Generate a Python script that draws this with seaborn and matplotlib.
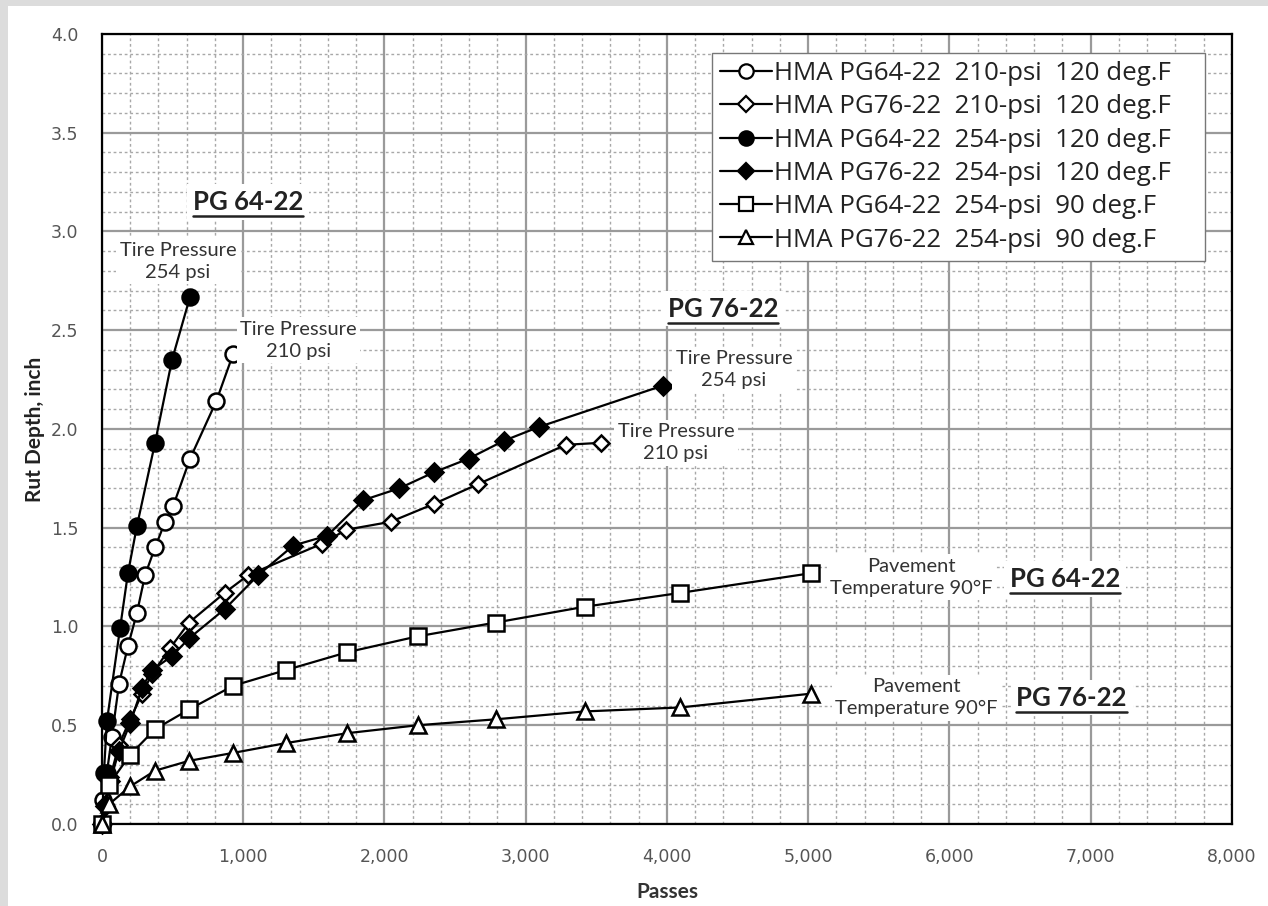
import matplotlib
matplotlib.use("Agg")
import matplotlib.pyplot as plt
import seaborn as sns
import pandas as pd
import numpy as np
from matplotlib.ticker import MultipleLocator, FuncFormatter
from matplotlib.lines import Line2D
from matplotlib.patches import Rectangle

# ---------------- data ----------------
labels = [
    "HMA PG64-22  210-psi  120 deg.F",
    "HMA PG76-22  210-psi  120 deg.F",
    "HMA PG64-22  254-psi  120 deg.F",
    "HMA PG76-22  254-psi  120 deg.F",
    "HMA PG64-22  254-psi  90 deg.F",
    "HMA PG76-22  254-psi  90 deg.F",
]

pg64_210_x = [0, 10, 35, 70, 121, 184, 248, 305, 376, 447, 504, 624, 809, 929]
pg64_210_y = [0.0, 0.12, 0.26, 0.44, 0.71, 0.90, 1.07, 1.26, 1.40, 1.53, 1.61, 1.85, 2.14, 2.38]

pg76_210_x = [0, 20, 60, 120, 200, 284, 355, 482, 617, 868, 1035, 1560, 1730, 2043, 2348, 2660, 3284, 3532]
pg76_210_y = [0.0, 0.10, 0.24, 0.40, 0.53, 0.66, 0.76, 0.89, 1.02, 1.17, 1.26, 1.42, 1.49, 1.53, 1.62, 1.72, 1.92, 1.93]

pg64_254_x = [0, 14, 35, 128, 184, 248, 376, 496, 624]
pg64_254_y = [0.0, 0.26, 0.52, 0.99, 1.27, 1.51, 1.93, 2.35, 2.67]

pg76_254_x = [0, 20, 60, 120, 200, 284, 355, 496, 617, 872, 1106, 1355, 1596, 1851, 2106, 2348, 2596, 2844, 3092, 3972]
pg76_254_y = [0.0, 0.09, 0.22, 0.37, 0.51, 0.69, 0.78, 0.85, 0.94, 1.09, 1.26, 1.41, 1.46, 1.64, 1.70, 1.78, 1.85, 1.94, 2.01, 2.22]

pg64_90_x = [0, 50, 199, 376, 617, 929, 1305, 1738, 2234, 2787, 3418, 4092, 5021]
pg64_90_y = [0.0, 0.20, 0.35, 0.48, 0.58, 0.70, 0.78, 0.87, 0.95, 1.02, 1.10, 1.17, 1.27]

pg76_90_x = [0, 50, 199, 376, 617, 929, 1305, 1738, 2234, 2787, 3418, 4092, 5021]
pg76_90_y = [0.0, 0.10, 0.19, 0.27, 0.32, 0.36, 0.41, 0.46, 0.50, 0.53, 0.57, 0.59, 0.66]

series_x = [pg64_210_x, pg76_210_x, pg64_254_x, pg76_254_x, pg64_90_x, pg76_90_x]
series_y = [pg64_210_y, pg76_210_y, pg64_254_y, pg76_254_y, pg64_90_y, pg76_90_y]
markers = ["o", "D", "o", "D", "s", "^"]
filled = [False, False, True, True, False, False]
msizes = [11.5, 8.5, 11.5, 9.5, 11, 11]

x_ticks = [0, 1000, 2000, 3000, 4000, 5000, 6000, 7000, 8000]
y_ticks = [0.0, 0.5, 1.0, 1.5, 2.0, 2.5, 3.0, 3.5, 4.0]

# ---------------- figure ----------------
sns.set_theme(style="white")
plt.rcParams["font.family"] = ["Lato", "DejaVu Sans"]

fig = plt.figure(figsize=(12.68, 9.06), dpi=100)
fig.patch.set_facecolor("white")
# light grey screenshot edges (top and left)
fig.patches.append(Rectangle((0, 1 - 6 / 906), 1, 6 / 906, transform=fig.transFigure,
                             facecolor="#dcdcdc", edgecolor="none", zorder=0))
fig.patches.append(Rectangle((0, 0), 8 / 1268, 1, transform=fig.transFigure,
                             facecolor="#dcdcdc", edgecolor="none", zorder=0))
ax = fig.add_axes([0.0804, 0.0905, 0.8912, 0.872])

handles = []
for xs, ys, mk, fl, ms, lab in zip(series_x, series_y, markers, filled, msizes, labels):
    df = pd.DataFrame({"Passes": xs, "Rut": ys})
    sns.lineplot(data=df, x="Passes", y="Rut", ax=ax, sort=False, estimator=None,
                 color="black", linewidth=1.6, marker=mk, markersize=ms,
                 markerfacecolor=("black" if fl else "white"), markeredgecolor="black",
                 markeredgewidth=1.8, zorder=5, clip_on=False)
    handles.append(Line2D([], [], color="black", linewidth=1.6, marker=mk,
                          markersize=ms * 0.9, markerfacecolor=("black" if fl else "white"),
                          markeredgecolor="black", markeredgewidth=1.6))

ax.set_xlim(0, 8000)
ax.set_ylim(0, 4.0)
ax.set_xticks(x_ticks)
ax.set_yticks(y_ticks)
ax.xaxis.set_minor_locator(MultipleLocator(200))
ax.yaxis.set_minor_locator(MultipleLocator(0.1))
ax.xaxis.set_major_formatter(FuncFormatter(lambda v, p: f"{int(v):,}"))
ax.yaxis.set_major_formatter(FuncFormatter(lambda v, p: f"{v:.1f}"))
ax.grid(which="major", color="#9a9a9a", linewidth=1.6, linestyle="-", zorder=0)
ax.grid(which="minor", color="#a8a8a8", linewidth=1.0, linestyle=(0, (2, 2)), zorder=0)
ax.set_axisbelow(True)
for s in ax.spines.values():
    s.set_color("black")
    s.set_linewidth(1.6)
ax.tick_params(axis="both", which="major", labelsize=12.5, labelcolor="#555555", length=0)
ax.tick_params(axis="x", pad=17)
ax.tick_params(axis="y", pad=17)
for t in ax.get_xticklabels() + ax.get_yticklabels():
    t.set_fontfamily(["DejaVu Sans"])

ax.set_xlabel("Passes", fontsize=15, fontweight="bold", color="#333333", labelpad=12)
ax.set_ylabel("Rut Depth, inch", fontsize=15, fontweight="bold", color="#222222", labelpad=4)

leg = ax.legend(handles, labels, loc="upper left",
                bbox_to_anchor=(0.5398, 0.976, 0.4363, 0), mode="expand",
                borderaxespad=0,
                prop={"family": ["Open Sans", "DejaVu Sans"], "size": 18.6},
                frameon=True, fancybox=False, edgecolor="#777777",
                framealpha=1, handlelength=2.0, handletextpad=0.1, labelspacing=0.32,
                borderpad=0.32)
leg.get_frame().set_linewidth(1.0)
leg.set_zorder(10)
for t in leg.get_texts():
    t.set_color("#222222")

# ---------------- annotations ----------------
box = dict(facecolor="white", edgecolor="none", pad=2.5)
notes = [
    (539, 2.85, "Tire Pressure\n254 psi"),
    (1390, 2.45, "Tire Pressure\n210 psi"),
    (4475, 2.30, "Tire Pressure\n254 psi"),
    (4064, 1.93, "Tire Pressure\n210 psi"),
    (5730, 1.25, "Pavement\nTemperature 90°F"),
    (5766, 0.64, "Pavement\nTemperature 90°F"),
]
for x, y, s in notes:
    ax.text(x, y, s, ha="center", va="center", fontsize=14.5, color="#333333",
            linespacing=1.35, bbox=box, zorder=8)

pg_labels = [
    (1035, 3.15, "PG 64-22"),
    (4397, 2.61, "PG 76-22"),
    (6816, 1.24, "PG 64-22"),
    (6865, 0.64, "PG 76-22"),
]
pg_texts = []
for x, y, s in pg_labels:
    t = ax.text(x, y, s, ha="center", va="center", fontsize=18.5, fontweight="bold",
                color="#222222", bbox=dict(facecolor="white", edgecolor="none", pad=4), zorder=8)
    pg_texts.append(t)

fig.canvas.draw()
renderer = fig.canvas.get_renderer()
inv = fig.transFigure.inverted()
for t in pg_texts:
    bb = t.get_window_extent(renderer)
    (x0, y0) = inv.transform((bb.x0, bb.y0 - 2))
    (x1, _) = inv.transform((bb.x1, bb.y0 - 2))
    fig.add_artist(Line2D([x0, x1], [y0, y0], transform=fig.transFigure,
                          color="#222222", linewidth=1.8, zorder=9))

fig.savefig("out.png", dpi=100, facecolor="white")
